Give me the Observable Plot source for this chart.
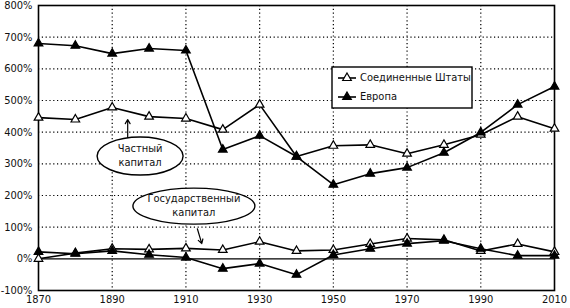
<!DOCTYPE html>
<html><head><meta charset="utf-8">
<script src="https://cdn.jsdelivr.net/npm/d3@7"></script>
<script src="https://cdn.jsdelivr.net/npm/@observablehq/plot@0.6"></script>
<style>
body{margin:0;background:#fff;}
svg{font-family:"DejaVu Sans Condensed",sans-serif;}
</style>
</head><body><div id="chart"></div>
<script>
const years = [1870,1880,1890,1900,1910,1920,1930,1940,1950,1960,1970,1980,1990,2000,2010];
const usPrivate = [446,440,478,449,443,408,487,323,357,360,332,360,392,449,411];
const euPrivate = [680,673,648,664,658,345,389,323,234,269,288,335,399,487,544];
const usPublic = [0,18,32,30,33,28,54,25,28,47,64,60,25,47,22];
const euPublic = [22,16,25,13,4,-31,-15,-50,12,32,48,57,32,10,10];
const xTicks = [1870,1890,1910,1930,1950,1970,1990,2010];
const yTicks = [-100,0,100,200,300,400,500,600,700,800];
const seriesNames = ["Соединенные Штаты","Европа"];
const labelPrivate = ["Частный","капитал"];
const labelPublic = ["Государственный","капитал"];

const rows = [];
years.forEach((y,i)=>{
  rows.push({year:y,v:usPrivate[i],s:"usPriv",fill:"white"});
  rows.push({year:y,v:euPrivate[i],s:"euPriv",fill:"black"});
  rows.push({year:y,v:usPublic[i],s:"usPub",fill:"white"});
  rows.push({year:y,v:euPublic[i],s:"euPub",fill:"black"});
});

const plot = Plot.plot({
  width:570, height:308,
  marginLeft:38, marginRight:16, marginTop:5, marginBottom:18,
  style:{fontSize:"11px", color:"#111"},
  x:{domain:[1870,2010], label:null},
  y:{domain:[-100,800], label:null},
  marks:[
    Plot.ruleY(yTicks.filter(d=>d>-100&&d<800&&d!==0),{stroke:"#000",strokeWidth:1.2,strokeDasharray:"1.2,2.6"}),
    Plot.ruleX(xTicks.filter(d=>d>1870&&d<2010),{stroke:"#000",strokeWidth:1.2,strokeDasharray:"1.2,2.6"}),
    Plot.ruleY([0],{stroke:"#000",strokeWidth:1.2}),
    Plot.frame({stroke:"#000",strokeWidth:1.6}),
    Plot.line(rows,{x:"year",y:"v",z:"s",stroke:"#000",strokeWidth:1.6}),
    Plot.dot(rows,{x:"year",y:"v",symbol:"triangle",r:3.2,fill:"fill",stroke:"#000",strokeWidth:1.2}),
    Plot.arrow([{x1:1894.2,y1:381,x2:1894.2,y2:440}],{x1:"x1",y1:"y1",x2:"x2",y2:"y2",stroke:"#000",strokeWidth:1.2,headLength:6}),
    Plot.arrow([{x1:1913.1,y1:95,x2:1914.3,y2:48}],{x1:"x1",y1:"y1",x2:"x2",y2:"y2",stroke:"#000",strokeWidth:1.2,headLength:6}),
    Plot.axisX({ticks:xTicks,tickFormat:d=>String(d),tickSize:0,tickPadding:5,fontSize:11}),
    Plot.axisY({ticks:yTicks,tickFormat:d=>d+"%",tickSize:0,tickPadding:6,fontSize:11})
  ]
});

const sx = plot.scale("x"), sy = plot.scale("y");
const svg = d3.select(plot);
function ellipse(year,val,rx,ry,lines){
  const cx = sx.apply(year), cy = sy.apply(val);
  svg.append("ellipse").attr("cx",cx).attr("cy",cy).attr("rx",rx).attr("ry",ry)
    .attr("fill","white").attr("stroke","#000").attr("stroke-width",1.4);
  lines.forEach((t,i)=>{
    svg.append("text").attr("x",cx).attr("y",cy+(i-(lines.length-1)/2)*13.5)
      .attr("text-anchor","middle").attr("dominant-baseline","middle")
      .attr("font-size",11).text(t);
  });
}
ellipse(1897.7,323,43,19,labelPrivate);
ellipse(1912.3,165,61,18,labelPublic);

// legend
const lg = svg.append("g").attr("transform","translate(332,67)");
lg.append("rect").attr("width",140).attr("height",41).attr("fill","white").attr("stroke","#000").attr("stroke-width",1.4);
seriesNames.forEach((n,i)=>{
  const yy = 11 + i*19;
  lg.append("line").attr("x1",6).attr("x2",24).attr("y1",yy).attr("y2",yy).attr("stroke","#000").attr("stroke-width",1.6);
  const sym = d3.symbol(d3.symbolTriangle, 3.2*3.2*Math.PI)();
  lg.append("path").attr("d",sym).attr("transform",`translate(15,${yy})`)
    .attr("fill",i===0?"white":"black").attr("stroke","#000").attr("stroke-width",1.2);
  lg.append("text").attr("x",28).attr("y",yy).attr("text-anchor","start").attr("dominant-baseline","middle").attr("font-size",11).text(n);
});

document.getElementById("chart").appendChild(plot);
</script>
</body></html>
